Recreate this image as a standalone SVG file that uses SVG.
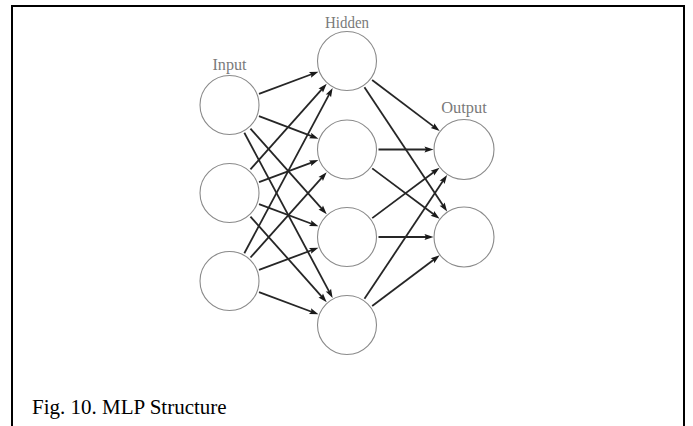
<svg xmlns="http://www.w3.org/2000/svg" width="693" height="426" viewBox="0 0 693 426">
  <style>
    .node { fill: #ffffff; stroke: #8a8a8a; stroke-width: 1.1; }
    .label { font-family: "Liberation Serif", "Times New Roman", serif; font-size: 16px; fill: #7a7a7a; text-anchor: middle; }
    .edge { stroke: #262626; stroke-width: 1.8; fill: none; marker-end: url(#head); }
    .caption { font-family: "Liberation Serif", "Times New Roman", serif; font-size: 21px; fill: #000000; }
  </style>
  <defs>
    <marker id="head" markerUnits="userSpaceOnUse" viewBox="-1 -4 11 8" refX="4" refY="0" markerWidth="11" markerHeight="8" orient="auto">
      <path d="M-0.5,-3 L8.5,0 L-0.5,3 L1,0 Z" fill="#1a1a1a"/>
    </marker>
  </defs>

  <rect width="693" height="426" fill="#ffffff"/>
  <!-- open frame: left, top and right sides -->
  <path d="M12,430 V6 H684 V430" fill="none" stroke="#000000" stroke-width="2"/>

  <g id="connectors">
    <!-- input layer to hidden layer -->
    <line class="edge" x1="259.0" y1="93.95" x2="314.22" y2="73.27"/>
    <line class="edge" x1="258.96" y1="116.16" x2="314.27" y2="137.10"/>
    <line class="edge" x1="250.44" y1="128.53" x2="323.73" y2="210.86"/>
    <line class="edge" x1="244.34" y1="132.79" x2="330.51" y2="294.13"/>

    <line class="edge" x1="250.44" y1="169.47" x2="323.73" y2="87.14"/>
    <line class="edge" x1="259.04" y1="182.06" x2="314.18" y2="161.65"/>
    <line class="edge" x1="259.0" y1="204.05" x2="314.22" y2="224.73"/>
    <line class="edge" x1="250.44" y1="216.53" x2="323.73" y2="298.86"/>

    <line class="edge" x1="244.34" y1="253.21" x2="330.51" y2="91.87"/>
    <line class="edge" x1="250.49" y1="257.51" x2="323.68" y2="175.60"/>
    <line class="edge" x1="259.0" y1="269.95" x2="314.22" y2="249.27"/>
    <line class="edge" x1="259.0" y1="292.05" x2="314.22" y2="312.73"/>

    <!-- hidden layer to output layer -->
    <line class="edge" x1="372.12" y1="80.00" x2="436.09" y2="128.38"/>
    <line class="edge" x1="364.44" y1="87.23" x2="444.62" y2="207.85"/>
    <line class="edge" x1="378.5" y1="149.5" x2="429" y2="149.5"/>
    <line class="edge" x1="372.23" y1="168.37" x2="435.97" y2="216.04"/>
    <line class="edge" x1="372.23" y1="218.13" x2="435.97" y2="170.46"/>
    <line class="edge" x1="378.5" y1="237" x2="429" y2="237"/>
    <line class="edge" x1="364.47" y1="298.79" x2="444.59" y2="178.62"/>
    <line class="edge" x1="372.17" y1="306.07" x2="436.03" y2="258.04"/>
  </g>

  <!-- layer titles -->
  <text class="label" x="229.5" y="70" textLength="34" lengthAdjust="spacingAndGlyphs">Input</text>
  <text class="label" x="347" y="28" textLength="44" lengthAdjust="spacingAndGlyphs">Hidden</text>
  <text class="label" x="464" y="113" textLength="45.5" lengthAdjust="spacingAndGlyphs">Output</text>

  <g id="in1"><circle class="node" cx="229.5" cy="105" r="29.5"/></g>
  <g id="in2"><circle class="node" cx="229.5" cy="193" r="29.5"/></g>
  <g id="in3"><circle class="node" cx="229.5" cy="281" r="29.5"/></g>

  <g id="hid1"><circle class="node" cx="347" cy="61" r="29.5"/></g>
  <g id="hid2"><circle class="node" cx="347" cy="149.5" r="29.5"/></g>
  <g id="hid3"><circle class="node" cx="347" cy="237" r="29.5"/></g>
  <g id="hid4"><circle class="node" cx="347" cy="325" r="29.5"/></g>

  <g id="out1"><circle class="node" cx="464" cy="149.5" r="30"/></g>
  <g id="out2"><circle class="node" cx="464" cy="237" r="30"/></g>

  <text class="caption" x="32" y="414">Fig. 10. MLP Structure</text>
</svg>
